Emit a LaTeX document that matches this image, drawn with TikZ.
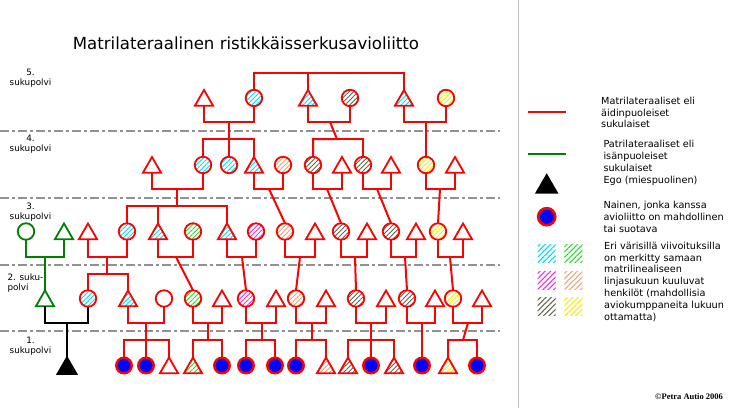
\documentclass[tikz,border=0pt]{standalone}
\usepackage{fontspec}
\setmainfont{DejaVu Sans}
\newfontfamily\copyfont{Liberation Serif}
\usetikzlibrary{shapes.geometric,patterns.meta}
\definecolor{hcyan}{RGB}{0,220,255}
\definecolor{hgreen}{RGB}{40,220,40}
\definecolor{hmag}{RGB}{240,40,240}
\definecolor{hpeach}{RGB}{235,165,120}
\definecolor{holive}{RGB}{100,100,80}
\definecolor{hyel}{RGB}{240,240,0}
\definecolor{pgreen}{RGB}{0,128,0}
\definecolor{sepgray}{RGB}{145,145,145}
\definecolor{vgray}{RGB}{190,190,190}
\tikzset{
  per/.style={draw=red, line width=1.8pt, inner sep=0pt, outer sep=0pt},
  fcirc/.style={per, circle, minimum size=16.5pt},
  mtri/.style={per, regular polygon, regular polygon sides=3, minimum size=21pt, anchor=north},
  bluew/.style={circle, draw=red, fill=blue, line width=2.4pt, inner sep=0pt, outer sep=0pt, minimum size=15.5pt},
  hpat/.style={pattern={Lines[angle=45,distance=3.3pt,line width=0.9pt]}, pattern color=#1},
  hc/.style={hpat=hcyan}, hg/.style={hpat=hgreen}, hm/.style={hpat=hmag},
  hp/.style={hpat=hpeach}, ho/.style={hpat=holive}, hy/.style={hpat=hyel},
  swatch/.style={pattern={Lines[angle=45,distance=3.8pt,line width=1.1pt]}, pattern color=#1},
  rel/.style={draw=red, line width=2pt},
  patl/.style={draw=pgreen, line width=2pt},
  egol/.style={draw=black, line width=2pt},
  gensep/.style={draw=sepgray, line width=1.5pt, dash pattern=on 9pt off 3pt on 3pt off 3pt},
  lab/.style={font=\fontsize{8.8}{10}\selectfont, inner sep=0pt, align=center, anchor=north},
  leg/.style={font=\fontsize{9.7}{11.8}\selectfont, inner sep=0pt, align=left, anchor=north west},
}
\begin{document}
\begin{tikzpicture}[x=1pt,y=-1pt]
\fill[white] (0,0) rectangle (730,408);
\useasboundingbox (0,0) rectangle (730,408);

% title
\node[font=\fontsize{16.6}{20}\selectfont, inner sep=0pt, anchor=base west] (title) at (72.7,49.3) {Matrilateraalinen ristikkäisserkusavioliitto};

% generation separators
\foreach \yy in {131,198,265,331} \draw[gensep] (0,\yy) -- (500,\yy);
\draw[draw=vgray, line width=1.5pt] (518.5,0) -- (518.5,408);

% generation labels
\node[lab] (l5) at (30.5,69) {5.\\sukupolvi};
\node[lab] (l4) at (30.5,135) {4.\\sukupolvi};
\node[lab] (l3) at (30.5,202.8) {3.\\sukupolvi};
\node[lab, align=left, anchor=north west] (l2) at (7.3,273.3) {2. suku-\\polvi};
\node[lab] (l1) at (30.5,336.8) {1.\\sukupolvi};

% ---------- generation 5
\node[mtri] (a5) at (204,90) {};
\node[fcirc,hc] (b5) at (254,98) {};
\node[mtri,hc] (c5) at (308,90) {};
\node[fcirc,ho] (d5) at (350,98) {};
\node[mtri,hc] (e5) at (404,90) {};
\node[fcirc,hy] (f5) at (446,98) {};
% ---------- generation 4
\node[mtri] (a4) at (152,157) {};
\node[fcirc,hc] (b4) at (203,165) {};
\node[fcirc,hc] (c4) at (229,165) {};
\node[mtri,hc] (d4) at (254,157) {};
\node[fcirc,hp] (e4) at (283,165) {};
\node[fcirc,ho] (f4) at (313,165) {};
\node[mtri] (g4) at (342,157) {};
\node[fcirc,ho] (h4) at (363,165) {};
\node[mtri] (i4) at (391,157) {};
\node[fcirc,hy] (j4) at (426,165) {};
\node[mtri] (k4) at (455,157) {};
% ---------- generation 3
\node[fcirc, draw=pgreen] (gc3) at (26,231.5) {};
\node[mtri, draw=pgreen] (gt3) at (64,223.5) {};
\node[mtri] (a3) at (88,223.5) {};
\node[fcirc,hc] (b3) at (127,231.5) {};
\node[mtri,hc] (c3) at (158,223.5) {};
\node[fcirc,hg] (d3) at (193,231.5) {};
\node[mtri,hc] (e3) at (227,223.5) {};
\node[fcirc,hm] (f3) at (256,231.5) {};
\node[fcirc,hp] (g3) at (285,231.5) {};
\node[mtri] (h3) at (315,223.5) {};
\node[fcirc,ho] (i3) at (341,231.5) {};
\node[mtri] (j3) at (367,223.5) {};
\node[fcirc,ho] (k3) at (391,231.5) {};
\node[mtri] (l3) at (416,223.5) {};
\node[fcirc,hy] (m3) at (438,231.5) {};
\node[mtri] (n3) at (463,223.5) {};
% ---------- generation 2
\node[mtri, draw=pgreen] (gt2) at (45,290.5) {};
\node[fcirc,hc] (a2) at (88,298.5) {};
\node[mtri,hc] (b2) at (128,290.5) {};
\node[fcirc] (c2) at (164,298.5) {};
\node[fcirc,hg] (d2) at (193,298.5) {};
\node[mtri] (e2) at (222,290.5) {};
\node[fcirc,hm] (f2) at (246,298.5) {};
\node[mtri] (g2) at (276,290.5) {};
\node[fcirc,hp] (h2) at (296,298.5) {};
\node[mtri] (i2) at (326,290.5) {};
\node[fcirc,ho] (j2) at (356,298.5) {};
\node[mtri] (k2) at (386,290.5) {};
\node[fcirc,ho] (l2) at (407,298.5) {};
\node[mtri] (m2) at (435,290.5) {};
\node[fcirc,hy] (n2) at (453,298.5) {};
\node[mtri] (o2) at (482,290.5) {};
% ---------- generation 1
\node[mtri, draw=black, fill=black, minimum size=22pt] (ego) at (67,357.5) {};
\node[bluew] (a1) at (124,365.5) {};
\node[bluew] (b1) at (146,365.5) {};
\node[mtri] (c1) at (169,357.5) {};
\node[mtri,hg] (d1) at (193,357.5) {};
\node[bluew] (e1) at (222,365.5) {};
\node[bluew] (f1) at (246,365.5) {};
\node[bluew] (g1) at (275,365.5) {};
\node[bluew] (h1) at (296,365.5) {};
\node[mtri,hp] (i1) at (326,357.5) {};
\node[mtri,ho] (j1) at (348,357.5) {};
\node[bluew] (k1) at (371,365.5) {};
\node[mtri,ho] (l1) at (394,357.5) {};
\node[bluew] (m1) at (422,365.5) {};
\node[mtri,hy] (n1) at (448,357.5) {};
\node[bluew] (o1) at (477,365.5) {};

% ---------- junction points
\coordinate (t5) at (308,73);
\coordinate (u5a) at (229,122);
\coordinate (u5b) at (330,122);
\coordinate (u5c) at (426,122);
\coordinate (s4a) at (229,139);
\coordinate (s4b) at (337,139);
\coordinate (u4a) at (177,189);
\coordinate (u4b) at (269,189);
\coordinate (u4c) at (327,189);
\coordinate (u4d) at (377,189);
\coordinate (u4e) at (440,189);
\coordinate (s3a) at (177,206);
\coordinate (u3g) at (45,257);
\coordinate (u3a) at (107,257);
\coordinate (u3b) at (176,257);
\coordinate (u3c) at (242,257);
\coordinate (u3d) at (300,257);
\coordinate (u3e) at (355,257);
\coordinate (u3f) at (405,257);
\coordinate (u3h) at (450,257);
\coordinate (s2a) at (107,274);
\coordinate (u2e) at (67,323);
\coordinate (u2a) at (146,323);
\coordinate (u2b) at (208,323);
\coordinate (u2c) at (262,323);
\coordinate (u2d) at (312,323);
\coordinate (u2f) at (371,323);
\coordinate (u2g) at (422,323);
\coordinate (u2h) at (468,323);
\coordinate (s1a) at (146,340);
\coordinate (s1b) at (208,340);
\coordinate (s1c) at (262,340);
\coordinate (s1d) at (312,340);
\coordinate (s1e) at (371,340);
\coordinate (s1f) at (463,340);

% ---------- connectors gen 5
\draw[rel] (b5.north) |- (t5.center) -| (e5.north);
\draw[rel] (c5.north) -- (t5.center);
\draw[rel] (a5.south) |- (u5a.center) -| (b5.south);
\draw[rel] (c5.south) |- (u5b.center) -| (d5.south);
\draw[rel] (e5.south) |- (u5c.center) -| (f5.south);
% gen 4
\draw[rel] (b4.north) |- (s4a.center) -| (d4.north);
\draw[rel] (c4.north) -- (u5a.center);
\draw[rel] (f4.north) |- (s4b.center) -- (u5b.center);
\draw[rel] (h4.north) |- (s4b.center);
\draw[rel] (j4.north) -- (u5c.center);
\draw[rel] (a4.south) |- (u4a.center) -| (b4.south);
\draw[rel] (d4.south) |- (u4b.center) -| (e4.south);
\draw[rel] (f4.south) |- (u4c.center) -| (g4.south);
\draw[rel] (h4.south) |- (u4d.center) -| (i4.south);
\draw[rel] (j4.south) |- (u4e.center) -| (k4.south);
% gen 3
\draw[rel] (b3.north) |- (s3a.center) -- (u4a.center);
\draw[rel] (e3.north) |- (s3a.center);
\draw[rel] (c3.north) -- (c3.north |- s3a.center);
\draw[rel] (g3.north) -- (u4b.center);
\draw[rel] (i3.north) -- (u4c.center);
\draw[rel] (k3.north) -- (u4d.center);
\draw[rel] (m3.north) -- (u4e.center);
\draw[patl] (gc3.south) |- (u3g.center) -| (gt3.south);
\draw[rel] (a3.south) |- (u3a.center) -| (b3.south);
\draw[rel] (c3.south) |- (u3b.center) -| (d3.south);
\draw[rel] (e3.south) |- (u3c.center) -| (f3.south);
\draw[rel] (g3.south) |- (u3d.center) -| (h3.south);
\draw[rel] (i3.south) |- (u3e.center) -| (j3.south);
\draw[rel] (k3.south) |- (u3f.center) -| (l3.south);
\draw[rel] (m3.south) |- (u3h.center) -| (n3.south);
% gen 2
\draw[patl] (gt2.north) -- (u3g.center);
\draw[rel] (a2.north) |- (s2a.center) -- (u3a.center);
\draw[rel] (b2.north) |- (s2a.center);
\draw[rel] (d2.north) -- (u3b.center);
\draw[rel] (f2.north) -- (u3c.center);
\draw[rel] (h2.north) -- (u3d.center);
\draw[rel] (j2.north) -- (u3e.center);
\draw[rel] (l2.north) -- (u3f.center);
\draw[rel] (n2.north) -- (u3h.center);
\draw[egol] (gt2.south) |- (u2e.center) -| (a2.south);
\draw[rel] (b2.south) |- (u2a.center) -| (c2.south);
\draw[rel] (d2.south) |- (u2b.center) -| (e2.south);
\draw[rel] (f2.south) |- (u2c.center) -| (g2.south);
\draw[rel] (h2.south) |- (u2d.center) -| (i2.south);
\draw[rel] (j2.south) |- (u2f.center) -| (k2.south);
\draw[rel] (l2.south) |- (u2g.center) -| (m2.south);
\draw[rel] (n2.south) |- (u2h.center) -| (o2.south);
% gen 1
\draw[egol] (ego.north) -- (u2e.center);
\draw[rel] (a1.north) |- (s1a.center) -| (c1.north);
\draw[rel] (b1.north) -- (u2a.center);
\draw[rel] (d1.north) |- (s1b.center) -- (u2b.center);
\draw[rel] (e1.north) |- (s1b.center);
\draw[rel] (f1.north) |- (s1c.center) -- (u2c.center);
\draw[rel] (g1.north) |- (s1c.center);
\draw[rel] (h1.north) |- (s1d.center) -- (u2d.center);
\draw[rel] (i1.north) |- (s1d.center);
\draw[rel] (j1.north) |- (s1e.center) -| (l1.north);
\draw[rel] (k1.north) -- (u2f.center);
\draw[rel] (m1.north) -- (u2g.center);
\draw[rel] (n1.north) |- (s1f.center) -- (u2h.center);
\draw[rel] (o1.north) |- (s1f.center);

% ---------- legend
\coordinate (lr1) at (528,112); \coordinate (lr2) at (566,112);
\draw[draw=red, line width=2pt] (lr1) -- (lr2);
\node[leg] (tr) at (601,96.8) {Matrilateraaliset eli\\äidinpuoleiset\\sukulaiset};
\coordinate (lg1) at (528,154); \coordinate (lg2) at (566,154);
\draw[draw=pgreen, line width=2pt] (lg1) -- (lg2);
\node[leg] (tg) at (603.3,140.1) {Patrilateraaliset eli\\isänpuoleiset\\sukulaiset};
\node[mtri, draw=black, fill=black, minimum size=23.5pt] (legego) at (546.7,175) {};
\node[leg] (te) at (603.3,176.1) {Ego (miespuolinen)};
\node[bluew, line width=2.7pt, minimum size=17pt] (legw) at (546.7,216.7) {};
\node[leg] (tw) at (603.3,201.1) {Nainen, jonka kanssa\\avioliitto on mahdollinen\\tai suotava};
\fill[swatch=hcyan] (537.7,244.3) rectangle ++(18,18);
\fill[swatch=hgreen] (564.3,244.3) rectangle ++(18,18);
\fill[swatch=hmag] (537.7,271) rectangle ++(18,18);
\fill[swatch=hpeach] (564.3,271) rectangle ++(18,18);
\fill[swatch=holive] (537.7,297.7) rectangle ++(18,18);
\fill[swatch=hyel] (564.3,297.7) rectangle ++(18,18);
\node[leg] (th) at (604,241.8) {Eri värisillä viivoituksilla\\on merkitty samaan\\matrilinealiseen\\linjasukuun kuuluvat\\henkilöt (mahdollisia\\aviokumppaneita lukuun\\ottamatta)};
\node[font=\copyfont\bfseries\fontsize{8.5}{10}\selectfont, inner sep=0pt, anchor=base west] (copy) at (655,399) {©Petra Autio 2006};
\end{tikzpicture}
\end{document}
